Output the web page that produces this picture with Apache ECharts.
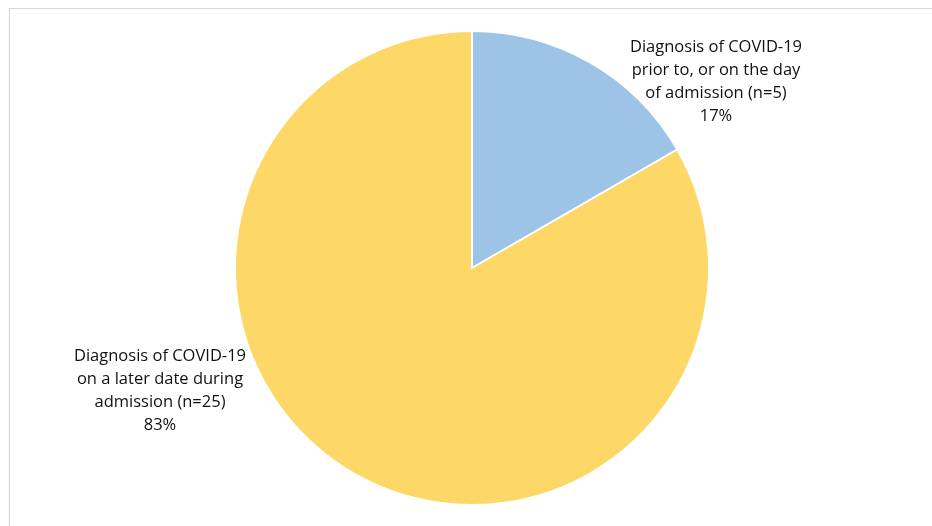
<!DOCTYPE html>
<html><head><meta charset="utf-8">
<script src="https://cdn.jsdelivr.net/npm/echarts@6/dist/echarts.min.js"></script>
<style>html,body{margin:0;padding:0;background:#fff}#c{width:932px;height:526px}</style>
</head><body><div id="c"></div>
<script>
const categories = ['Diagnosis of COVID-19\nprior to, or on the day\nof admission (n=5)', 'Diagnosis of COVID-19\non a later date during\nadmission (n=25)'];
const values = [5, 25];
const percents = ['17%', '83%'];
const colors = ['#9DC3E6', '#FDD866'];
const labelPos = [[716, 36], [160, 345]];

const chart = echarts.init(document.getElementById('c'));
chart.setOption({
  animation: false,
  graphic: [{type: 'rect', shape: {x: 9.5, y: 8.5, width: 1000, height: 1000}, style: {fill: 'none', stroke: '#d9d9d9', lineWidth: 1.2}, z: -1}],
  series: [{
    type: 'pie',
    center: [472, 268],
    radius: 237,
    startAngle: 90,
    clockwise: true,
    data: values.map((v, i) => ({name: categories[i], value: v, itemStyle: {color: colors[i]}})),
    itemStyle: {borderColor: '#fff', borderWidth: 2},
    label: {
      show: true, position: 'outside',
      formatter: p => p.name + '\n' + percents[p.dataIndex],
      fontFamily: 'Open Sans', fontSize: 16.5, lineHeight: 23, color: '#111', align: 'center'
    },
    labelLine: {show: false},
    labelLayout: p => ({x: labelPos[p.dataIndex][0], y: labelPos[p.dataIndex][1], align: 'center', verticalAlign: 'top'}),
    emphasis: {disabled: true}
  }]
});
</script></body></html>
